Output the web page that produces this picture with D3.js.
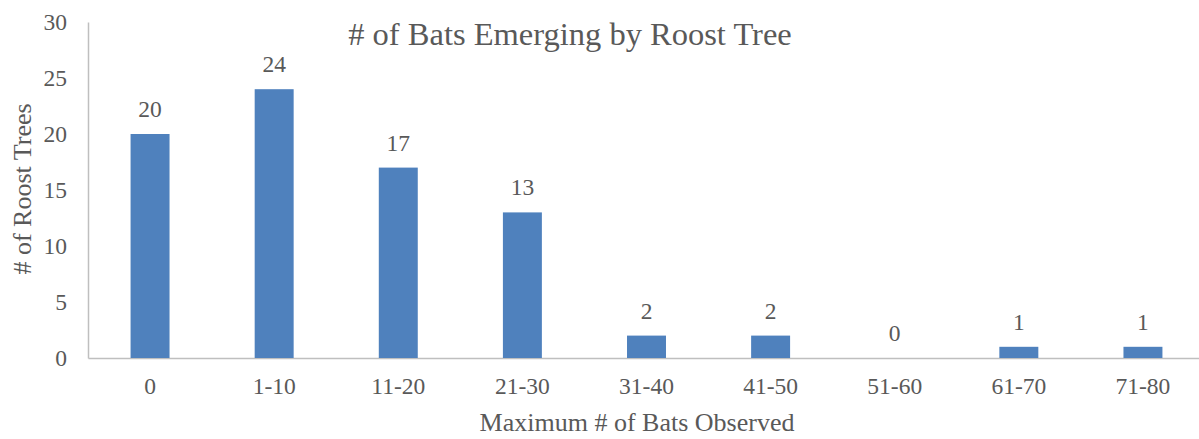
<!DOCTYPE html>
<html><head><meta charset="utf-8">
<script src="https://cdn.jsdelivr.net/npm/d3@7"></script>
<style>body{margin:0;background:#fff}</style>
</head><body>
<svg id="c" width="1199" height="439"></svg>
<script>
const categories = ["0","1-10","11-20","21-30","31-40","41-50","51-60","61-70","71-80"];
const values = [20,24,17,13,2,2,0,1,1];
const yTicks = [0,5,10,15,20,25,30];
const title = "# of Bats Emerging by Roost Tree";
const xTitle = "Maximum # of Bats Observed";
const yTitle = "# of Roost Trees";

const svg = d3.select("#c");
const font = "'Liberation Serif','Times New Roman',serif";
const txt = "#595959";
const x = d3.scaleBand().domain(categories).range([88,1205]).paddingInner(0.686).paddingOuter(0.343);
const y = d3.scaleLinear().domain([0,30]).range([358,22]);

svg.append("text").attr("x",570).attr("y",45).attr("text-anchor","middle")
  .attr("font-family",font).attr("font-size",32.5).attr("fill",txt).text(title);

// axes
const yAx = svg.append("g").attr("transform","translate(88,0)")
  .call(d3.axisLeft(y).tickValues(yTicks).tickSize(0).tickPadding(21));
yAx.select(".domain").attr("stroke","#bfbfbf").attr("stroke-width",1.5);
yAx.selectAll("text").attr("font-family",font).attr("font-size",23.5).attr("fill",txt);

const xAx = svg.append("g").attr("transform","translate(0,358)")
  .call(d3.axisBottom(x).tickSize(0).tickPadding(19));
xAx.select(".domain").attr("stroke","#bfbfbf").attr("stroke-width",1.5);
xAx.selectAll("text").attr("font-family",font).attr("font-size",23.5).attr("fill",txt);

svg.append("g").selectAll("rect").data(values).join("rect")
  .attr("x",(d,i)=>x(categories[i])).attr("width",x.bandwidth())
  .attr("y",d=>y(d)).attr("height",d=>y(0)-y(d)).attr("fill","#4f81bd");

svg.append("g").selectAll("text").data(values).join("text")
  .attr("x",(d,i)=>x(categories[i])+x.bandwidth()/2).attr("y",d=>y(d)-17)
  .attr("text-anchor","middle").attr("font-family",font).attr("font-size",23.5).attr("fill",txt)
  .text(d=>d);

svg.append("text").attr("x",637).attr("y",431).attr("text-anchor","middle")
  .attr("font-family",font).attr("font-size",26).attr("fill",txt).text(xTitle);
svg.append("text").attr("transform","translate(31,189) rotate(-90)").attr("text-anchor","middle")
  .attr("font-family",font).attr("font-size",26).attr("fill",txt).text(yTitle);
</script>
</body></html>
